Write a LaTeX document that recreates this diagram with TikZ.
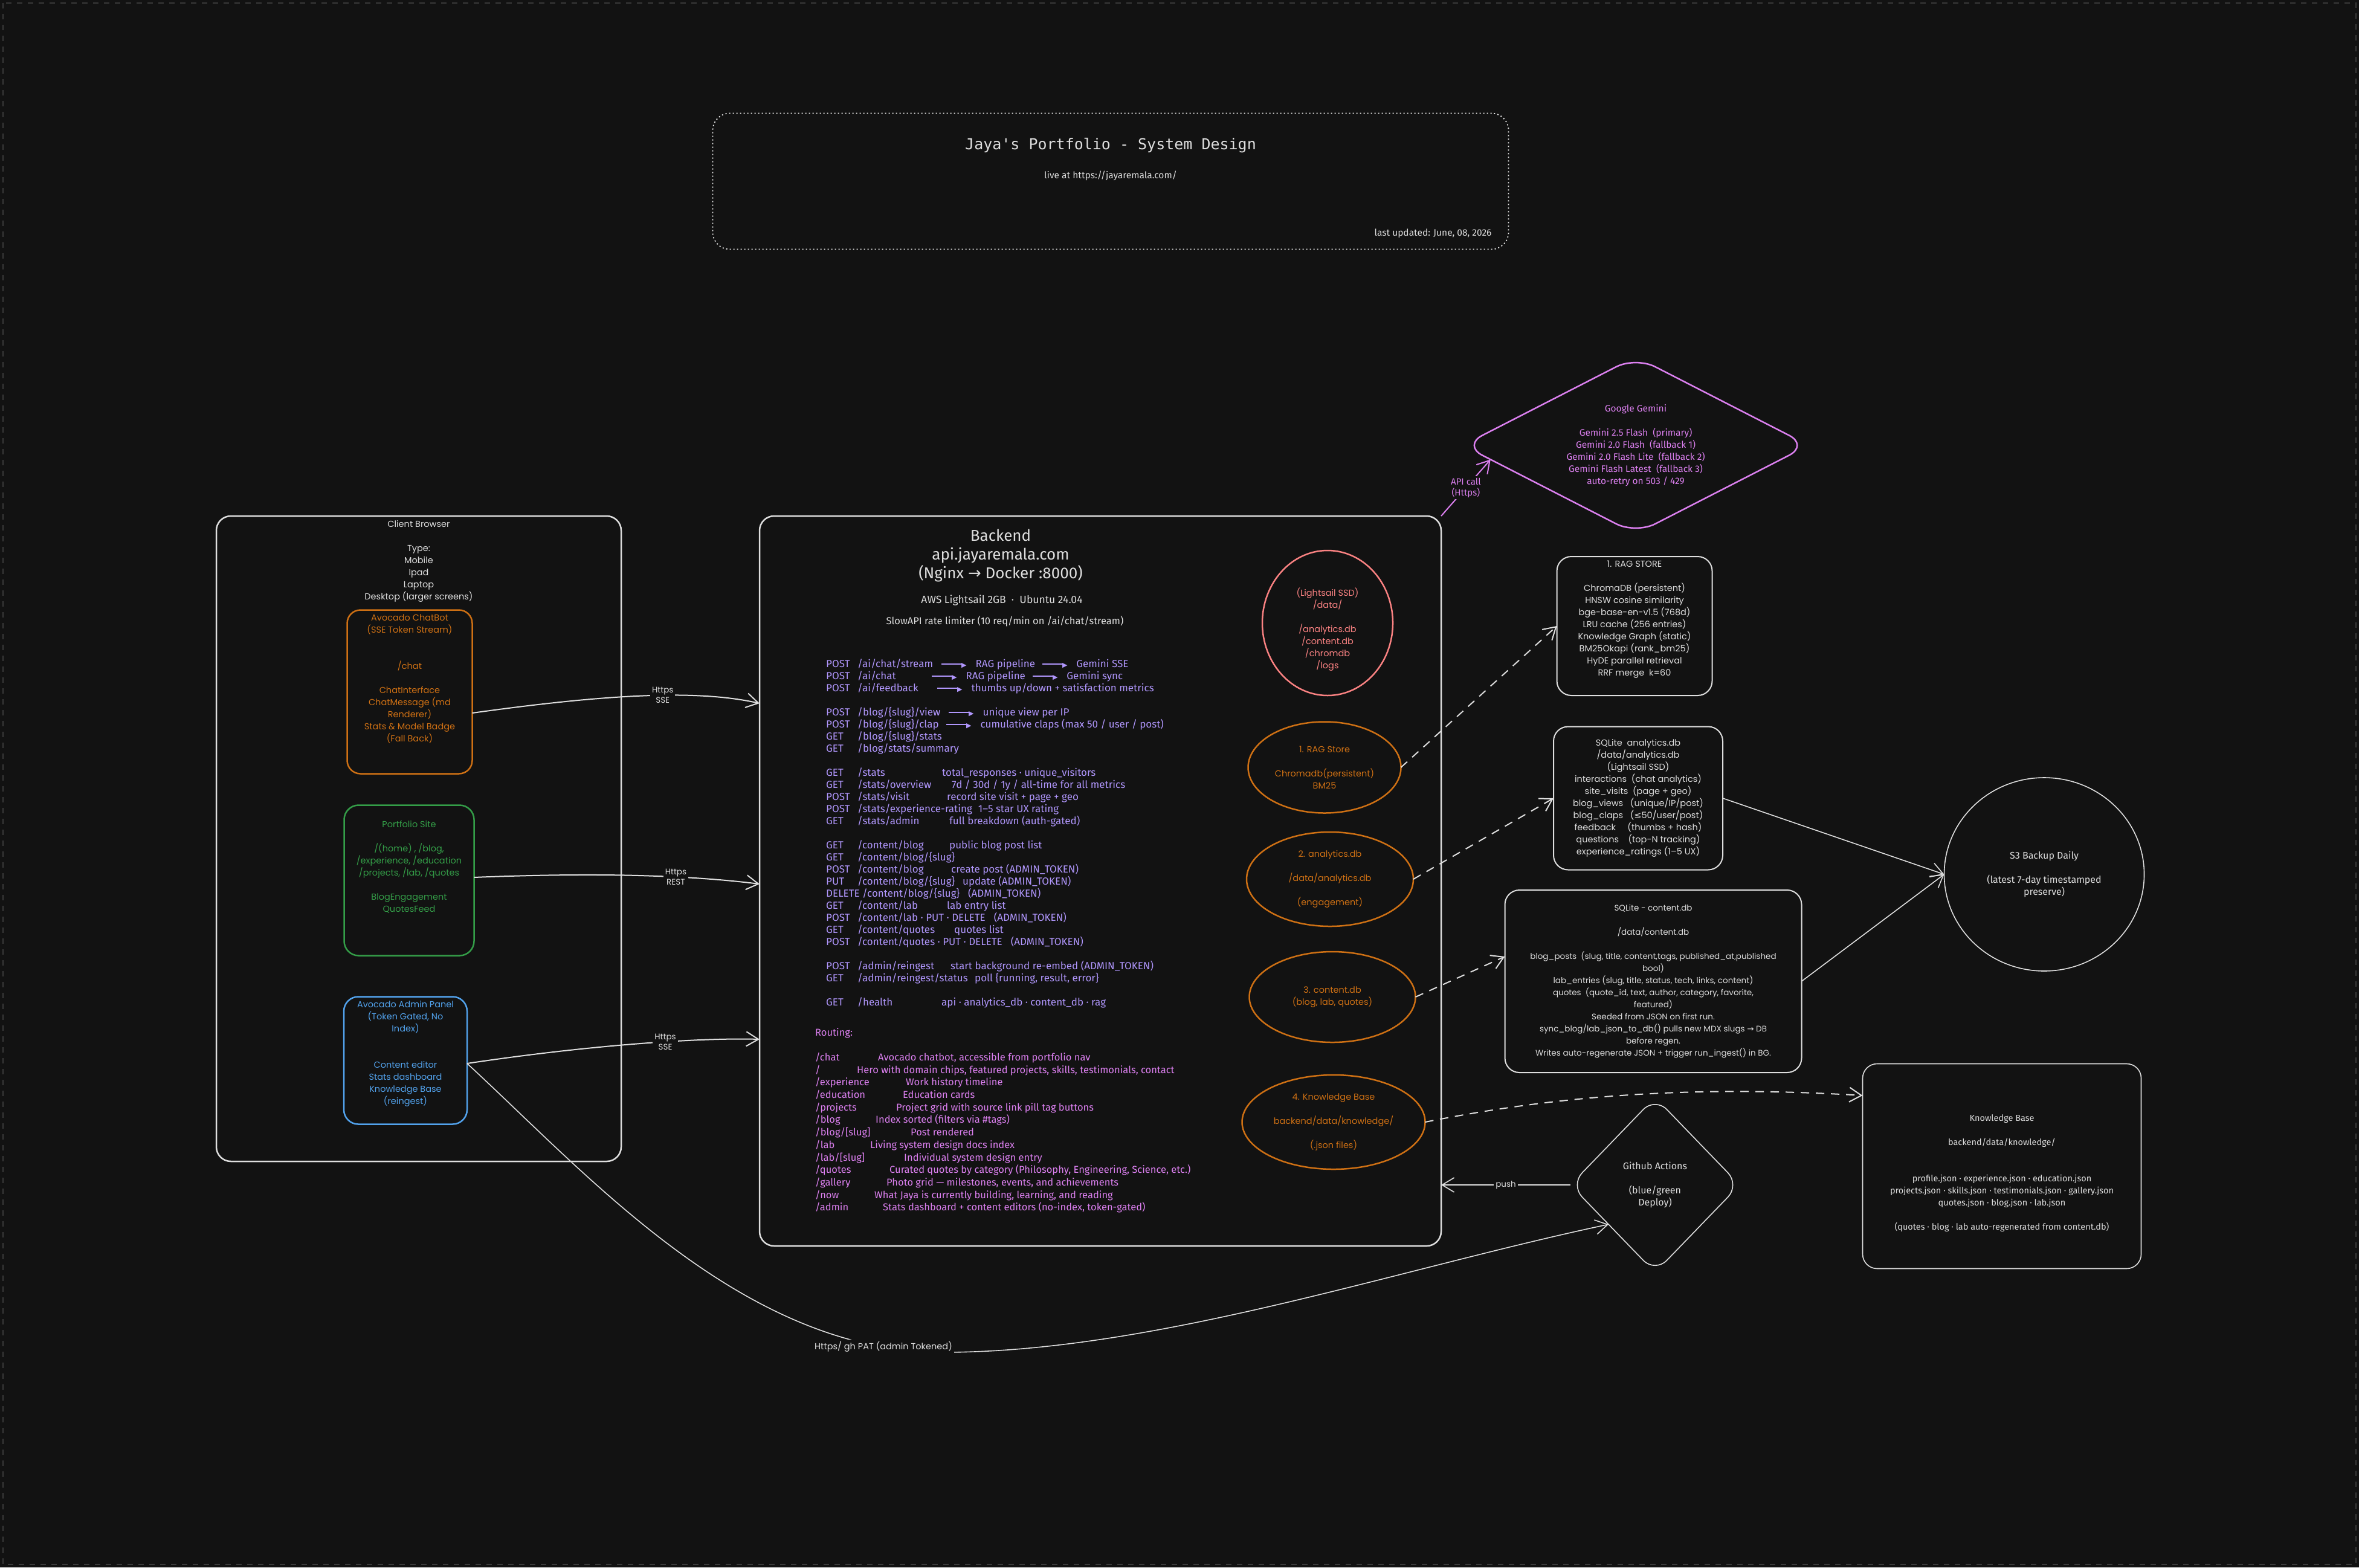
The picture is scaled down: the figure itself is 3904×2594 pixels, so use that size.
\documentclass[tikz,border=0pt]{standalone}
\usepackage{fontspec}
\setmainfont{Fira Sans}
\setmonofont{DejaVu Sans Mono}
\newfontfamily\hand{Poppins}
\newfontfamily\symfont{DejaVu Sans}
\usepackage{tikz}
\usetikzlibrary{shapes.geometric, arrows.meta, calc}
\definecolor{bg}{RGB}{18,18,18}
\definecolor{ink}{RGB}{222,222,222}
\definecolor{frame}{RGB}{58,58,58}
\definecolor{avoOrange}{RGB}{206,112,20}
\definecolor{siteGreen}{RGB}{52,158,72}
\definecolor{adminBlue}{RGB}{82,162,236}
\definecolor{ssdPink}{RGB}{250,130,130}
\definecolor{apiLav}{RGB}{176,150,252}
\definecolor{gemViolet}{RGB}{220,128,240}
\newcommand{\setfs}[2]{\fontsize{#1}{#2}\selectfont\lineskiplimit=-100pt\relax}
\newcommand{\mth}[1]{\makebox[52pt][l]{#1}}
\newcommand{\ep}[3]{\makebox[#1pt][l]{#2}#3}
\newcommand{\apiarr}{\rule[5pt]{34pt}{1.6pt}\kern-1pt{\symfont\fontsize{11}{20}\selectfont ▶}\hspace{15pt}}

\begin{document}
\begin{tikzpicture}[x=1pt, y=-1pt,
    box/.style={draw, rounded corners=24pt, line width=2.5pt, align=center,
                inner sep=0pt, outer sep=0pt},
    oval/.style={ellipse, draw, line width=2.5pt, align=center, inner sep=0pt, outer sep=0pt},
    rhomb/.style={diamond, draw, rounded corners=36pt, line width=2.5pt, align=center,
                  inner sep=0pt, outer sep=0pt},
    hand/.style={font=\hand\setfs{14.5}{20}},
    narrow/.style={font=\setfs{15.5}{20}},
    conn/.style={draw=ink, line width=2pt, -{Straight Barb[length=20pt, width=24pt]}},
    dconn/.style={conn, dash pattern=on 14pt off 11pt},
    lbl/.style={fill=bg, inner sep=3pt, align=center, text=ink, font=\hand\setfs{13.5}{17}}
  ]
  \useasboundingbox (0,0) rectangle (3904,2594);
  \fill[bg] (0,0) rectangle (3904,2594);
  \draw[frame, line width=1.5pt, dash pattern=on 9pt off 9pt] (5,5) rectangle (3899,2589);

  \node[draw=ink!70, line width=1.8pt, dash pattern=on 2pt off 4pt, rounded corners=28pt,
        minimum width=1317pt, minimum height=225pt, inner sep=0pt] (titlebox) at (1838,300) {};
  \node[text=ink, font=\ttfamily\setfs{25}{30}] (title) at (1838,241) {Jaya's Portfolio - System Design};
  \node[text=ink, narrow] (live) at (1838,291) {live at https://jayaremala.com/};
  \node[text=ink, narrow, anchor=east] (updated) at (2472,386) {last updated: June, 08, 2026};

  \node[box, draw=ink, minimum width=670pt, minimum height=1068pt] (client) at (693,1388) {};
  \node[hand, text=ink, align=center] (clientlbl) at (693,929)
        {Client Browser\\[20pt]Type:\\Mobile\\Ipad\\Laptop\\Desktop (larger screens)};
  \node[box, hand, draw=avoOrange, text=avoOrange, rounded corners=22pt,
        minimum width=207pt, minimum height=271pt] (chat) at (678,1145)
        {Avocado ChatBot\\(SSE Token Stream)\\[40pt]/chat\\[20pt]ChatInterface\\ChatMessage (md\\Renderer)\\Stats \& Model Badge\\(Fall Back)\\[20pt]\strut};
  \node[box, hand, draw=siteGreen, text=siteGreen, minimum width=215pt, minimum height=249pt] (site) at (677,1457)
        {Portfolio Site\\[20pt]/(home) , /blog,\\/experience, /education\\/projects, /lab, /quotes\\[20pt]BlogEngagement\\QuotesFeed\\[20pt]\strut};
  \node[box, hand, draw=adminBlue, text=adminBlue, minimum width=204pt, minimum height=211pt] (admin) at (671,1755)
        {Avocado Admin Panel\\(Token Gated, No\\Index)\\[40pt]Content editor\\Stats dashboard\\Knowledge Base\\(reingest)\\\strut};

  \node[box, draw=ink, minimum width=1128pt, minimum height=1208pt] (backend) at (1821,1458) {};
  \node[text=ink, align=center, font=\setfs{26}{31}] (bhead) at (1656,920)
        {Backend\\api.jayaremala.com\\(Nginx {\symfont→} Docker :8000)};
  \node[text=ink, font=\setfs{17.5}{20}] (bhost) at (1658,994) {AWS Lightsail 2GB \ · \ Ubuntu 24.04};
  \node[text=ink, font=\setfs{16.5}{20}] (limiter) at (1663,1028) {SlowAPI rate limiter (10 req/min on /ai/chat/stream)};
  \node[text=apiLav, align=left, anchor=north west, inner sep=0pt, font=\setfs{17}{20}] (apilist) at (1367,1091) {%
    \ep{191}{\mth{POST}/ai/chat/stream}{\apiarr RAG pipeline\hspace{12pt}\apiarr Gemini SSE}\\
    \ep{175}{\mth{POST}/ai/chat}{\apiarr RAG pipeline\hspace{12pt}\apiarr Gemini sync}\\
    \ep{184}{\mth{POST}/ai/feedback}{\apiarr thumbs up/down + satisfaction metrics}\\[20pt]
    \ep{203}{\mth{POST}/blog/\{slug\}/view}{\apiarr unique view per IP}\\
    \ep{199}{\mth{POST}/blog/\{slug\}/clap}{\apiarr cumulative claps (max 50 / user / post)}\\
    \mth{GET}/blog/\{slug\}/stats\\
    \mth{GET}/blog/stats/summary\\[20pt]
    \ep{192}{\mth{GET}/stats}{total\_responses · unique\_visitors}\\
    \ep{208}{\mth{GET}/stats/overview}{7d / 30d / 1y / all-time for all metrics}\\
    \ep{200}{\mth{POST}/stats/visit}{record site visit + page + geo}\\
    \mth{POST}/stats/experience-rating\hspace{10pt}1–5 star UX rating\\
    \ep{204}{\mth{GET}/stats/admin}{full breakdown (auth-gated)}\\[20pt]
    \ep{204}{\mth{GET}/content/blog}{public blog post list}\\
    \mth{GET}/content/blog/\{slug\}\\
    \ep{207}{\mth{POST}/content/blog}{create post (ADMIN\_TOKEN)}\\
    \ep{226}{\mth{PUT}/content/blog/\{slug\}}{update (ADMIN\_TOKEN)}\\
    DELETE /content/blog/\{slug\}\hspace{14pt}(ADMIN\_TOKEN)\\
    \ep{200}{\mth{GET}/content/lab}{lab entry list}\\
    \mth{POST}/content/lab · PUT · DELETE\hspace{14pt}(ADMIN\_TOKEN)\\
    \ep{212}{\mth{GET}/content/quotes}{quotes list}\\
    \mth{POST}/content/quotes · PUT · DELETE\hspace{14pt}(ADMIN\_TOKEN)\\[20pt]
    \ep{206}{\mth{POST}/admin/reingest}{start background re-embed (ADMIN\_TOKEN)}\\
    \ep{246}{\mth{GET}/admin/reingest/status}{poll \{running, result, error\}}\\[20pt]
    \ep{191}{\mth{GET}/health}{api · analytics\_db · content\_db · rag}};
  \node[text=gemViolet, align=left, anchor=north west, inner sep=0pt, font=\setfs{16.5}{20.7}] (routing) at (1349,1701) {%
    Routing:\\[20.7pt]
    \ep{104}{/chat}{Avocado chatbot, accessible from portfolio nav}\\
    \ep{69}{/}{Hero with domain chips, featured projects, skills, testimonials, contact}\\
    \ep{150}{/experience}{Work history timeline}\\
    \ep{145}{/education}{Education cards}\\
    \ep{134}{/projects}{Project grid with source link pill tag buttons}\\
    \ep{100}{/blog}{Index sorted (filters via \#tags)}\\
    \ep{158}{/blog/[slug]}{Post rendered}\\
    \ep{91}{/lab}{Living system design docs index}\\
    \ep{147}{/lab/[slug]}{Individual system design entry}\\
    \ep{123}{/quotes}{Curated quotes by category (Philosophy, Engineering, Science, etc.)}\\
    \ep{118}{/gallery}{Photo grid — milestones, events, and achievements}\\
    \ep{98}{/now}{What Jaya is currently building, learning, and reading}\\
    \ep{112}{/admin}{Stats dashboard + content editors (no-index, token-gated)}};

  \node[oval, hand, draw=ssdPink, text=ssdPink, minimum width=216pt, minimum height=240pt] (ssd) at (2197,1031)
        {\strut\\(Lightsail SSD)\\/data/\\[20pt]/analytics.db\\/content.db\\/chromdb\\/logs};
  \node[oval, hand, draw=avoOrange, text=avoOrange, minimum width=253pt, minimum height=151pt] (ragdb) at (2192,1270)
        {1. RAG Store\\[20pt]Chromadb(persistent)\\BM25};
  \node[oval, hand, draw=avoOrange, text=avoOrange, minimum width=276pt, minimum height=156pt] (anadb) at (2201,1455)
        {2. analytics.db\\[20pt]/data/analytics.db\\[20pt](engagement)};
  \node[oval, hand, draw=avoOrange, text=avoOrange, minimum width=275pt, minimum height=150pt] (contdb) at (2205,1650)
        {3. content.db\\(blog, lab, quotes)};
  \node[oval, hand, draw=avoOrange, text=avoOrange, minimum width=303pt, minimum height=156pt] (kbdir) at (2207,1857)
        {4. Knowledge Base\\[20pt]backend/data/knowledge/\\[20pt](.json files)};

  \node[rhomb, narrow, draw=gemViolet, text=gemViolet, aspect=1.95, minimum width=572pt, minimum height=293pt] (gemini) at (2707,737)
        {Google Gemini\\[20pt]Gemini 2.5 Flash \ (primary)\\Gemini 2.0 Flash \ (fallback 1)\\Gemini 2.0 Flash Lite \ (fallback 2)\\Gemini Flash Latest \ (fallback 3)\\auto-retry on 503 / 429};
  \node[box, hand, draw=ink, text=ink, line width=2pt, minimum width=257pt, minimum height=230pt] (ragbox) at (2705,1036)
        {1. RAG STORE\\[20pt]ChromaDB (persistent)\\HNSW cosine similarity\\bge-base-en-v1.5 (768d)\\LRU cache (256 entries)\\Knowledge Graph (static)\\BM25Okapi (rank\_bm25)\\HyDE parallel retrieval\\RRF merge \ k=60\\\strut};
  \node[box, hand, draw=ink, text=ink, line width=2pt, minimum width=280pt, minimum height=237pt] (anabox) at (2711,1321)
        {SQLite \ analytics.db\\/data/analytics.db\\(Lightsail SSD)\\interactions \ (chat analytics)\\site\_visits \ (page + geo)\\blog\_views \ \ (unique/IP/post)\\blog\_claps \ \ ({\symfont≤}50/user/post)\\feedback \ \ \ \ (thumbs + hash)\\questions \ \ \ (top-N tracking)\\experience\_ratings (1–5 UX)};
  \node[box, draw=ink, text=ink, line width=2pt, font=\hand\setfs{13.5}{20}, minimum width=491pt, minimum height=302pt] (contbox) at (2736,1624)
        {SQLite - content.db\\[20pt]/data/content.db\\[20pt]blog\_posts \ (slug, title, content,tags, published\_at,published\\bool)\\lab\_entries (slug, title, status, tech, links, content)\\quotes \ (quote\_id, text, author, category, favorite,\\featured)\\Seeded from JSON on first run.\\sync\_blog/lab\_json\_to\_db() pulls new MDX slugs {\symfont→} DB\\before regen.\\Writes auto-regenerate JSON + trigger run\_ingest() in BG.};
  \node[oval, narrow, draw=ink, text=ink, line width=1.6pt, font=\setfs{16}{20}, minimum width=331pt, minimum height=320pt] (s3) at (3383,1447)
        {S3 Backup Daily\\[20pt](latest 7-day timestamped\\preserve)};
  \node[box, draw=ink, text=ink, line width=1.6pt, font=\setfs{14.5}{20}, minimum width=461pt, minimum height=339pt] (kbbox) at (3313,1930)
        {\strut\\Knowledge Base\\[20pt]backend/data/knowledge/\\[40pt]profile.json · experience.json · education.json\\projects.json · skills.json · testimonials.json · gallery.json\\quotes.json · blog.json · lab.json\\[20pt](quotes · blog · lab auto-regenerated from content.db)};
  \node[rhomb, draw=ink, text=ink, line width=1.6pt, rounded corners=28pt, font=\setfs{16}{20}, aspect=0.96,
        minimum width=280pt, minimum height=290pt] (gha) at (2739,1961)
        {Github Actions\\[20pt](blue/green\\Deploy)};

  \coordinate (gemin) at ($(gemini.west)!0.16!(gemini.south)$);
  \coordinate (ghain) at ($(gha.west)!0.45!(gha.south)$);
  \coordinate (patlow) at (1560,2238);

  \draw[conn] ([yshift=-35pt]chat.east) .. controls +(216,-30) and +(-107,-24) .. ([yshift=294pt]backend.west)
        node[lbl, pos=0.58] (chatlbl) {Https\\SSE};
  \draw[conn] ([yshift=5pt]site.east) .. controls +(200,-8) and +(-120,-15) .. ([yshift=-5pt]backend.west)
        node[lbl, pos=0.65] (sitelbl) {Https\\REST};
  \draw[conn] ([yshift=-5pt]admin.east) .. controls +(200,-30) and +(-100,-3) .. ([yshift=-262pt]backend.west)
        node[lbl, pos=0.6] (adminlbl) {Https\\SSE};
  \draw[conn, draw=gemViolet] (backend.north east) -- (gemin)
        node[lbl, text=gemViolet, font=\setfs{15}{18}, pos=0.5] (apilbl) {API call\\(Https)};
  \draw[dconn] (ragdb.east) -- (ragbox.west);
  \draw[dconn] (anadb.east) -- (anabox.west);
  \draw[dconn] (contdb.east) -- ([yshift=41pt]contbox.west);
  \draw[dconn] (kbdir.east) .. controls +(250,-50) and +(-250,-15) .. ([yshift=117pt]kbbox.west);
  \draw[conn, line width=1.6pt] (anabox.east) -- (s3.west);
  \draw[conn, line width=1.6pt] (contbox.east) -- (s3.west);
  \draw[conn, line width=1.6pt] (gha.west) -- ([yshift=-503pt]backend.east)
        node[lbl, pos=0.5] (pushlbl) {push};
  \draw[conn, line width=1.6pt] ([yshift=-5pt]admin.east) .. controls +(200,184) and +(-330,0) .. (patlow)
        .. controls +(350,0) and +(-350,74) .. (ghain);
  \node[lbl, font=\hand\setfs{14.5}{18}] (patlbl) at (1462,2229) {Https/ gh PAT (admin Tokened)};
\end{tikzpicture}
\end{document}
